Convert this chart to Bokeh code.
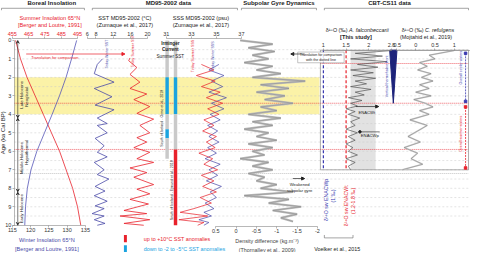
import math
from bokeh.plotting import figure
from bokeh.models import Range1d, LinearAxis, FixedTicker, Arrow, VeeHead, NormalHead
from bokeh.core.properties import value
from bokeh.embed import file_html
from bokeh.resources import INLINE

# ------------------------------------------------------------------ data
age_ticks = [0, 1, 2, 3, 4, 5, 6, 7, 8, 9, 10]

ins_age = [0, 1, 2, 3, 4, 5, 6, 7, 8, 9, 10]
summer_ins = [457, 460, 464, 469, 474, 479, 484, 488, 492, 495, 497]
winter_ins = [132.6, 131.2, 129.7, 127.9, 125.9, 123.8, 121.7, 120.1, 119.1, 118.6, 118.4]
summer_ins_ticks = [455, 465, 475, 485, 495]
winter_ins_ticks = [115, 120, 125, 130, 135]

sst_w_age = [1.0, 1.3, 1.8, 2.26, 2.6, 3.05, 3.5, 3.75, 4.2, 4.5, 4.6, 5.0, 5.3, 5.7, 6.05, 6.3, 6.6,
             7.0, 7.26, 7.5, 7.9, 8.15, 8.4, 8.7, 8.95, 9.1, 9.37, 9.5, 9.7, 9.9, 10.0]
sst_w = [9.5, 8.3, 7.6, 12.2, 7.6, 11.7, 7.8, 12.2, 8.3, 10.6, 8.3, 10.6, 7.8, 9.9, 8.3, 10.6, 7.6,
         9.9, 8.3, 11.0, 7.8, 10.1, 7.6, 10.6, 7.8, 9.9, 7.1, 9.9, 7.6, 10.1, 8.3]
sst_s_age = [0.95, 1.1, 1.47, 1.84, 2.26, 2.6, 2.9, 3.2, 3.58, 3.95, 4.26, 4.5, 4.6, 5.0, 5.26, 5.5,
             5.8, 6.05, 6.4, 6.6, 6.9, 7.15, 7.4, 7.8, 8.05, 8.3, 8.6, 8.85, 9.2, 9.37, 9.5, 9.7, 9.9, 10.0]
sst_s = [15.9, 15.6, 17.5, 15.9, 18.2, 15.9, 19.8, 16.8, 20.5, 17.5, 21.4, 19.1, 18.2, 20.5, 17.5, 19.8,
         16.8, 20.5, 17.5, 21.4, 15.9, 19.8, 16.8, 21.4, 17.5, 20.5, 15.9, 20.2, 14.5, 19.8, 13.6, 20.5, 14.5, 19.1]
sst_ticks = [6, 8, 12, 16, 20]

sss_age = [1.3, 1.6, 1.9, 2.2, 2.5, 2.8, 3.1, 3.4, 3.7, 4.0, 4.3, 4.6, 4.9, 5.2, 5.5, 5.8, 6.1, 6.4,
           6.7, 7.0, 7.3, 7.6, 7.9, 8.2, 8.5, 8.8, 9.1, 9.3, 9.5, 9.7, 9.85, 10.0]
sss_s = [33.8, 34.8, 33.4, 34.9, 33.8, 35.3, 34.2, 35.5, 34.3, 35.2, 34.0, 34.8, 33.9, 35.0, 34.2, 34.9,
         33.6, 34.7, 34.0, 35.1, 33.8, 34.8, 33.9, 35.0, 33.7, 34.6, 33.2, 32.1, 34.3, 32.0, 34.0, 33.5]
sss_w = [35.2, 34.4, 35.6, 34.6, 35.5, 34.4, 35.8, 34.6, 35.6, 34.5, 35.3, 34.3, 35.1, 34.4, 35.2, 34.3,
         35.0, 34.1, 35.3, 34.4, 35.1, 34.2, 35.4, 34.5, 35.0, 34.1, 34.8, 34.0, 34.6, 33.6, 34.4, 34.0]
sss_ticks = [31, 33, 35, 37]

dens_age = [0.0, 0.2, 0.4, 0.6, 0.8, 1.0, 1.2, 1.4, 1.6, 1.8, 2.0, 2.2, 2.4, 2.6, 2.8, 3.0, 3.2, 3.4,
            3.6, 3.8, 4.0, 4.2, 4.4, 4.6, 4.8, 5.0, 5.2, 5.4, 5.6, 5.8, 6.0, 6.2, 6.4, 6.6, 6.8, 7.0,
            7.2, 7.4, 7.6, 7.8, 8.0, 8.2, 8.4, 8.6, 8.8, 9.0, 9.2, 9.4, 9.6, 9.8]
dens = [-0.1, -0.9, -0.3, -0.95, -0.4, -0.8, -0.2, -0.9, -0.5, -1.1, -0.4, -1.7, -0.6, -1.3, -0.5,
        -1.2, -0.7, -1.4, -0.6, -1.0, -0.3, -1.1, -0.4, -0.9, -0.2, -0.8, -0.5, -1.0, -0.3, -0.9,
        -0.4, -0.7, -0.1, -0.8, -0.4, -0.9, -0.3, -0.7, -0.5, -1.0, -0.6, -1.4, -0.2, -1.3, -0.8,
        -1.6, -0.9, -1.5, -1.1, -1.4]
dens_ticks = [0.5, 0, -0.5, -1, -1.5, -2]
dens_labels = ["0.5", "0", "-0.5", "-1", "-1.5", "-2"]

falc_age = [0.55, 0.7, 0.85, 1.0, 1.15, 1.3, 1.45, 1.6, 1.75, 1.9, 2.05, 2.2, 2.35, 2.5, 2.65, 2.8,
            2.95, 3.1, 3.25, 3.4, 3.55, 3.7, 3.85, 4.0, 4.2, 4.4, 4.6, 4.8, 5.0, 5.2, 5.4, 5.6, 5.8,
            6.0, 6.2, 6.4, 6.6, 6.8, 7.0]
falc = [2.5, 1.7, 2.3, 1.6, 2.4, 1.75, 2.2, 1.6, 2.1, 1.65, 2.15, 1.7, 1.95, 1.6, 2.05, 1.7, 1.9,
        1.55, 1.85, 1.6, 1.75, 1.5, 1.7, 1.55, 1.8, 1.6, 1.7, 1.5, 1.75, 1.55, 1.7, 1.5, 1.65, 1.55,
        1.75, 1.5, 1.7, 1.55, 1.6]
falc_ticks = [1, 1.5, 2, 2.5]
falc_labels = ["1", "1.5", "2", "2.5"]
falc_band = [1.6, 2.15]

refu_age = [0.55, 0.8, 1.0, 1.2, 1.4, 1.6, 1.8, 2.0, 2.2, 2.4, 2.6, 2.8, 3.0, 3.2, 3.4, 3.6, 3.8,
            4.0, 4.3, 4.6, 4.9, 5.2, 5.5, 5.8, 6.1, 6.4, 6.7, 7.0]
refu = [1.0, 0.35, 0.5, 0.1, 0.3, 0.05, 0.4, 0.15, 0.45, 0.1, 0.35, 0.0, 0.4, -0.05, 0.25, 0.45,
        0.1, 0.35, -0.15, 0.3, 0.05, -0.2, 0.12, -0.3, 0.05, -0.12, 0.18, -0.35]
refu_ticks = [-0.5, 0, 0.5, 1, 1.5]
refu_labels = ["-0.5", "0", "0.5", "1", "1.5"]

cbt_span = [0.53, 7.0]
enacw_p = 1.0
enacw_t = 1.5
front_age = [0.53, 0.53, 3.4]
front_val = [2.46, 2.62, 2.54]

neoglacial = [2.0, 4.0]
red_lines = [3.4, 5.9]
cbt_red_line = 1.25
grid_ages = [0.5, 1, 1.5, 2, 2.5, 3, 3.5, 4, 4.5, 5, 5.5, 6, 6.5, 7, 7.5, 8, 8.5, 9, 9.5]
black_dot_age = 7.2
periods = [(0.0, 4.2), (4.2, 8.2), (8.2, 10.0)]

orme_top = [0.0, 2.0, 4.0, 4.8, 5.3]
orme_bot = [2.0, 4.0, 4.8, 5.3, 6.4]
orme_kind = ["n", "c", "n", "c", "n"]
ejm_top = [0.0, 2.0, 4.0, 5.9]
ejm_bot = [2.0, 4.0, 5.9, 10.0]
ejm_kind = ["n", "c", "n", "w"]

# ------------------------------------------------------------------ layout helpers
RED = "#e8212b"
BLUE = "#4a4aa8"
CYAN = "#1aa3df"
GREY = "#a8a8a8"
KIND = {"n": "#c9c9c9", "c": CYAN, "w": RED}
FONT = value("Liberation Sans")

W, H = 470, 252
RX0, RX1 = 2, 478          # reference pixel span shown horizontally
RY0, RY1 = 1, 260          # reference pixel span shown vertically
AGE_Y0, AGE_PX = 42, 19    # reference pixel of age 0 and px per ka


def age_at(ry):
    return (ry - AGE_Y0) / AGE_PX


def lin_range(v1, p1, v2, p2):
    k = (v2 - v1) / (p2 - p1)
    return Range1d(start=v1 + (RX0 - p1) * k, end=v1 + (RX1 - p1) * k)


p = figure(width=W, height=H, output_backend="svg", toolbar_location=None,
           x_range=Range1d(RX0, RX1), y_range=Range1d(age_at(RY1), age_at(RY0)),
           x_axis_location=None, y_axis_location=None, min_border=0)
p.outline_line_color = None
p.background_fill_color = "white"
p.border_fill_color = "white"
p.grid.visible = False
p.extra_y_ranges = {"ry": Range1d(RY1, RY0)}
p.extra_x_ranges = {
    "ins_s": lin_range(455, 14, 495, 80),
    "ins_w": lin_range(115, 14, 135, 88),
    "sst": lin_range(6, 90, 20, 151),
    "sss": lin_range(31, 170, 37, 246),
    "dens": lin_range(0.5, 220, -2, 323),
    "falc": lin_range(1, 329, 2.5, 398),
    "refu": lin_range(-0.5, 403, 1.5, 481),
}


def T(x, y, s, size=5.5, color="#222222", angle=0.0, style="normal", align="center"):
    p.text(x=[x], y=[y], text=[s], y_range_name="ry", text_font=FONT,
           text_font_size=f"{size}px", text_color=color, angle=angle,
           text_align=align, text_baseline="middle", text_font_style=style)


def L(xs, ys, color="#555555", width=0.6, dash="solid"):
    p.line(xs, ys, y_range_name="ry", line_color=color, line_width=width, line_dash=dash)


def axis(side, rng, loc, ticks, bounds, labels=None, color="#333333"):
    kw = dict(x_range_name=rng) if rng else {}
    ax = LinearAxis(fixed_location=loc, ticker=FixedTicker(ticks=ticks), bounds=bounds, **kw)
    ax.major_label_text_font = "Liberation Sans"
    ax.major_label_text_font_size = "5.5px"
    ax.major_label_text_color = color
    ax.major_label_standoff = 1
    ax.major_tick_out = 2
    ax.major_tick_in = 0
    ax.minor_tick_out = 0
    ax.minor_tick_in = 0
    ax.axis_line_color = "#888888"
    ax.axis_line_width = 0.6
    ax.major_tick_line_color = "#888888"
    ax.major_tick_line_width = 0.6
    if labels:
        ax.major_label_overrides = {t: l for t, l in zip(ticks, labels)}
    p.add_layout(ax, side)
    return ax


# ------------------------------------------------------------------ backgrounds
p.quad(left=[16], right=[325], bottom=[neoglacial[1]], top=[neoglacial[0]],
       fill_color="#fbf19d", fill_alpha=0.9, line_color=None)
p.quad(left=[falc_band[0]], right=[falc_band[1]], bottom=[cbt_span[1]], top=[cbt_span[0]],
       x_range_name="falc", fill_color="#e2e2e2", line_color=None)
p.segment(x0=[16] * len(grid_ages), x1=[476] * len(grid_ages), y0=grid_ages, y1=grid_ages,
          line_color="#c8c8c8", line_width=0.5, line_dash="2 2")
p.segment(x0=[16], x1=[476], y0=[black_dot_age], y1=[black_dot_age],
          line_color="#9a9a9a", line_width=0.6, line_dash="1 1")
p.segment(x0=[16] * len(red_lines), x1=[476] * len(red_lines), y0=red_lines, y1=red_lines,
          line_color=RED, line_width=0.7, line_dash="1 1")
p.segment(x0=[326], x1=[476], y0=[cbt_red_line], y1=[cbt_red_line],
          line_color=RED, line_width=0.7, line_dash="1 1")

# ------------------------------------------------------------------ insolation
p.line(summer_ins, ins_age, x_range_name="ins_s", line_color=RED, line_width=0.8)
p.line(winter_ins, ins_age, x_range_name="ins_w", line_color="#5656b8", line_width=0.8)

# ------------------------------------------------------------------ MD95-2002
p.line(sst_w, sst_w_age, x_range_name="sst", line_color=BLUE, line_width=0.8)
p.line(sst_s, sst_s_age, x_range_name="sst", line_color=RED, line_width=0.8)
p.line(sss_w, sss_age, x_range_name="sss", line_color=BLUE, line_width=0.8, line_alpha=0.9)
p.line(sss_s, sss_age, x_range_name="sss", line_color=RED, line_width=0.8, line_alpha=0.9)

p.quad(left=[169] * len(orme_top), right=[172.5] * len(orme_top), top=orme_top, bottom=orme_bot,
       fill_color=[KIND[k] for k in orme_kind], line_color=None)
p.quad(left=[177.5] * len(ejm_top), right=[181] * len(ejm_top), top=ejm_top, bottom=ejm_bot,
       fill_color=[KIND[k] for k in ejm_kind], line_color=None)

# ------------------------------------------------------------------ subpolar gyre
p.line(dens, dens_age, x_range_name="dens", line_color="#bdbdbd", line_width=2.2)
p.line(dens, dens_age, x_range_name="dens", line_color="#858585", line_width=0.5)

# ------------------------------------------------------------------ CBT-CS11
p.quad(left=[326], right=[476], top=[cbt_span[0]], bottom=[cbt_span[1]],
       fill_color=None, line_color="#777777", line_width=0.6)
p.segment(x0=[enacw_p], x1=[enacw_p], y0=[cbt_span[0]], y1=[cbt_span[1]], x_range_name="falc",
          line_color="#3b3bb0", line_width=1.2, line_dash="3 2")
p.segment(x0=[enacw_t], x1=[enacw_t], y0=[cbt_span[0]], y1=[cbt_span[1]], x_range_name="falc",
          line_color=RED, line_width=1.2, line_dash="3 2")
p.patch(front_val, front_age, x_range_name="falc", fill_color="#1d237a", line_color="#1d237a")
p.line(falc, falc_age, x_range_name="falc", line_color="#555555", line_width=0.7)
p.line(refu, refu_age, x_range_name="refu", line_color="#d4d4d4", line_width=1.6)
p.line(refu, refu_age, x_range_name="refu", line_color="#777777", line_width=0.5)
p.segment(x0=[473], x1=[473], y0=[0.7], y1=[3.3], line_color="#3b3bb0", line_width=0.8, line_dash="2 1")
p.segment(x0=[473], x1=[473], y0=[3.6], y1=[6.9], line_color=RED, line_width=0.8, line_dash="2 1")
p.scatter(x=[473, 473], y=[0.7, 3.3], marker="square", size=2.5, color="#3b3bb0")
p.scatter(x=[473, 473], y=[3.6, 6.9], marker="square", size=2.5, color=RED)

# ------------------------------------------------------------------ axes
axis("left", None, 16, age_ticks, (0, 10))
axis("above", "ins_s", -0.1, summer_ins_ticks, (455, 495), color=RED)
axis("below", "ins_w", 10, winter_ins_ticks, (115, 135))
axis("above", "sst", -0.1, sst_ticks, (6, 20))
axis("above", "sss", -0.1, sss_ticks, (31, 37))
axis("below", "dens", 10.05, dens_ticks, (-2, 0.5), labels=dens_labels)
axis("above", "falc", cbt_span[0], falc_ticks, (1, 2.5), labels=falc_labels)
axis("above", "refu", cbt_span[0], refu_ticks, (-0.5, 1.5), labels=refu_labels)

# period arrows
for a0, a1 in periods:
    p.add_layout(Arrow(start=VeeHead(size=3, line_color="#222", line_width=0.6),
                       end=VeeHead(size=3, line_color="#222", line_width=0.6),
                       x_start=19.5, x_end=19.5, y_start=a0, y_end=a1,
                       line_color="#222", line_width=0.6))

# ------------------------------------------------------------------ text
T(5, 137, "Age (ka Cal BP)", size=6, angle=math.pi / 2)
T(23, 98, "Late Holocene", size=4.3, angle=math.pi / 2)
T(28, 100, "Neoglacial", size=4.3, angle=math.pi / 2)
T(23, 163, "Middle Holocene", size=4.3, angle=math.pi / 2)
T(28, 157, "Hypsithermal", size=4.3, angle=math.pi / 2)
T(23, 215, "Early Holocene", size=4.3, angle=math.pi / 2)

# headings and brackets
for (a, b), title, cx in [((3, 87), "Boreal Insolation", 54), ((95, 242), "MD95-2002 data", 172),
                          ((246, 322), "Subpolar Gyre Dynamics", 284), ((330, 476), "CBT-CS11 data", 396)]:
    T(cx, 4, title, size=6, style="bold")
    L([a, a, b, b], [11, 9, 9, 11], color="#666666", width=0.6)

T(52, 19, "Summer Insolation 65°N", size=5.6, color=RED)
T(52, 26, "[Berger and Loutre, 1991]", size=5.6, color=RED)
T(128, 19, "SST MD95-2002 (°C)", size=5.6)
T(128, 26, "(Zumaque et al., 2017)", size=5.6)
T(205, 19, "SSS MD95-2002 (psu)", size=5.6)
T(205, 26, "(Zumaque et al., 2017)", size=5.6)
T(355, 31, "δ¹⁸O (‰) ", size=5.4, align="right")
T(355, 31, "A. falconbeccarii", size=5.4, style="italic", align="left")
T(362, 38, "[This study]", size=5.6, style="bold")
T(432, 31, "δ¹⁸O (‰) ", size=5.4, align="right")
T(432, 31, "C. refulgens", size=5.4, style="italic", align="left")
T(433, 38, "(Mojtahid et al., 2019)", size=5.4)

# in-panel labels
T(57, 59.5, "Translation for comparison", size=4, color=RED)
p.add_layout(Arrow(end=NormalHead(size=3, fill_color=RED, line_color=RED), x_start=28, x_end=128,
                   y_start=56, y_end=56, y_range_name="ry", line_color=RED, line_width=0.7))
T(110, 56, "Today Winter SST", size=3.6, color=BLUE, angle=math.pi / 2)
T(136, 53, "Today Summer SST", size=3.6, color=RED, angle=math.pi / 2)
T(197, 58, "Today Summer SSS", size=3.6, color=RED, angle=math.pi / 2)
T(217, 58, "Today Winter SSS", size=3.6, color=BLUE, angle=math.pi / 2)
T(174, 45, "Irminger", size=4.6, style="bold")
T(174, 51.5, "Current", size=4.6, style="bold")
T(174, 58.5, "Summer SST", size=4.6)
T(166, 122, "South of Iceland - Orme et al., 2018", size=3.6, angle=math.pi / 2)
T(175.5, 196, "South of Iceland - Ejmund et al., 2018", size=3.6, angle=math.pi / 2)

p.add_layout(Arrow(end=NormalHead(size=3, fill_color="#222", line_color="#222"), x_start=298, x_end=310,
                   y_start=184, y_end=184, y_range_name="ry", line_color="#222", line_width=0.7))
T(305, 190, "Weakened", size=4.2)
T(305, 196, "subpolar gyre", size=4.2)

p.add_layout(Arrow(end=NormalHead(size=3, fill_color="#222", line_color="#222"), x_start=310, x_end=296,
                   y_start=56, y_end=56, y_range_name="ry", line_color="#222", line_width=0.7))
p.quad(left=[303], right=[350], top=[54], bottom=[65], y_range_name="ry",
       fill_color="white", fill_alpha=0.85, line_color="#888888", line_width=0.5)
T(326.5, 57, "Translation for comparison", size=3.6)
T(326.5, 62, "with the dotted line", size=3.6)

T(393, 79, "Vertical thermohaline front", size=3.6, color="#3b3bb0", angle=math.pi / 2)
T(468, 70, "Overall cooler waters", size=3.6, color="#3b3bb0", angle=math.pi / 2)
T(468, 138, "Overall warmer waters", size=3.6, color=RED, angle=math.pi / 2)
p.add_layout(Arrow(end=NormalHead(size=3, fill_color="#222", line_color="#222"), x_start=362, x_end=385,
                   y_start=110, y_end=110, y_range_name="ry", line_color="#222", line_width=0.7))
T(373, 116, "ENACWt", size=4.2)
p.scatter(x=[366], y=[136], y_range_name="ry", marker="circle", size=2.5, color="#222")
L([366, 386], [136, 136], color="#222", width=0.6)
T(376, 139.5, "ENACWp", size=4.2)

# footer
T(49, 247, "Winter Insolation 65°N", size=5.6, color=BLUE)
T(49, 256, "[Berger and Loutre, 1991]", size=5.6, color=BLUE)
p.quad(left=[127], right=[130], top=[242], bottom=[249.5], y_range_name="ry", fill_color=RED, line_color=None)
p.quad(left=[127], right=[130], top=[252.5], bottom=[260], y_range_name="ry", fill_color=CYAN, line_color=None)
T(147, 246, "up to +10°C SST anomalies", size=5.4, color=RED, align="left")
T(147, 256, "down to -2 to -5°C SST anomalies", size=5.4, color=CYAN, align="left")
T(272, 248, "Density difference (kg.m⁻³)", size=5.4, color="#444")
T(272, 257, "(Thornalley et al., 2009)", size=5.4, color="#444")
T(332, 206, "δ¹⁸O sw ENACWp", size=5.2, color="#3b3bb0", angle=math.pi / 2)
T(338.5, 202, "(1 ‰)", size=5.2, color="#3b3bb0", angle=math.pi / 2)
T(352, 212, "δ¹⁸O sw ENACWt", size=5.2, color=RED, angle=math.pi / 2)
T(358.5, 207, "(1.2-1.8 ‰)", size=5.2, color=RED, angle=math.pi / 2)
L([330, 330, 359, 359], [242, 245, 245, 242], color="#666666", width=0.6)
T(343, 256, "Voelker et al., 2015", size=5.4)

open("out.html", "w").write(file_html(p, INLINE))
